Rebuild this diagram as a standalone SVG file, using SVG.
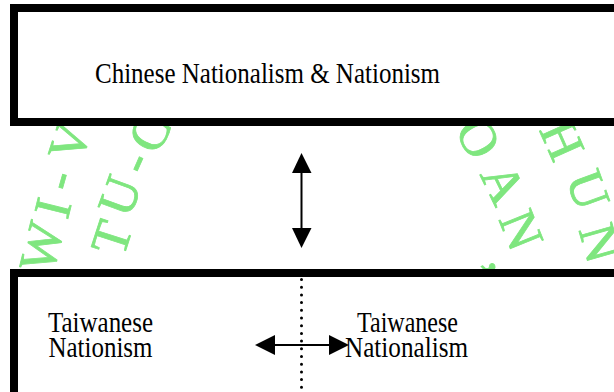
<svg xmlns="http://www.w3.org/2000/svg" width="614" height="392" viewBox="0 0 614 392">
<style>
.wm{font-family:"Liberation Serif",serif;font-size:52px;fill:#7fe67f;stroke:#7fe67f;stroke-width:0.8;text-anchor:middle}
.box{fill:#fff;stroke:#000;stroke-width:8}
.lbl{font-family:"Liberation Serif","Times New Roman",serif;font-size:29px;fill:#000;text-anchor:middle}
.ln{stroke:#000;stroke-width:2;fill:none}
.hd{fill:#000}
</style>
<rect width="614" height="392" fill="#fff"/>
<g id="watermark">
<text class="wm" transform="translate(42,247) rotate(-76)" y="17">W</text>
<text class="wm" transform="translate(53,208) rotate(-76)" y="17">I</text>
<text class="wm" transform="translate(58,180) rotate(-74)" y="17">-</text>
<text class="wm" transform="translate(70,142) rotate(-72)" y="17">V</text>
<text class="wm" transform="translate(112,238) rotate(-72)" y="17">T</text>
<text class="wm" transform="translate(120,196) rotate(-70)" y="17">U</text>
<text class="wm" transform="translate(134,162) rotate(-66)" y="17">-</text>
<text class="wm" transform="translate(150,133) rotate(-62)" y="17">C</text>
<text class="wm" transform="translate(478,138) rotate(60)" y="17">O</text>
<text class="wm" transform="translate(503,184) rotate(64)" y="17">A</text>
<text class="wm" transform="translate(521,230) rotate(68)" y="17">N</text>
<text class="wm" transform="translate(506,262) rotate(70)" y="17">,</text>
<text class="wm" transform="translate(562,140) rotate(66)" y="17">H</text>
<text class="wm" transform="translate(588,190) rotate(70)" y="17">U</text>
<text class="wm" transform="translate(600,243) rotate(74)" y="17">N</text>
</g>
<g id="top-node">
<rect class="box" x="14" y="8" width="700" height="114"/>
<text class="lbl" x="267.5" y="83" textLength="345" lengthAdjust="spacingAndGlyphs">Chinese Nationalism &amp; Nationism</text>
</g>
<g id="bottom-node">
<rect class="box" x="14" y="273" width="700" height="124"/>
<g id="taiwanese-nationism">
<text class="lbl" x="100.5" y="331.5" textLength="105" lengthAdjust="spacingAndGlyphs">Taiwanese</text>
<text class="lbl" x="100.5" y="356.5" textLength="104" lengthAdjust="spacingAndGlyphs">Nationism</text>
</g>
<g id="taiwanese-nationalism">
<text class="lbl" x="407.5" y="331.5" textLength="101" lengthAdjust="spacingAndGlyphs">Taiwanese</text>
<text class="lbl" x="406.5" y="356.5" textLength="123" lengthAdjust="spacingAndGlyphs">Nationalism</text>
</g>
</g>
<g id="connectors">
<line class="ln" x1="301.5" y1="170" x2="301.5" y2="230"/>
<polygon class="hd" points="301.5,153 292,173 311.5,173"/>
<polygon class="hd" points="301.5,248 292,228 311.5,228"/>
<line x1="301.5" y1="279.5" x2="301.5" y2="391" stroke="#000" stroke-width="3" stroke-linecap="round" stroke-dasharray="0 7.7"/>
<line class="ln" x1="272" y1="345" x2="332" y2="345"/>
<polygon class="hd" points="255,345 275,335 275,355"/>
<polygon class="hd" points="349,345 329,335 329,355"/>
</g>
</svg>
